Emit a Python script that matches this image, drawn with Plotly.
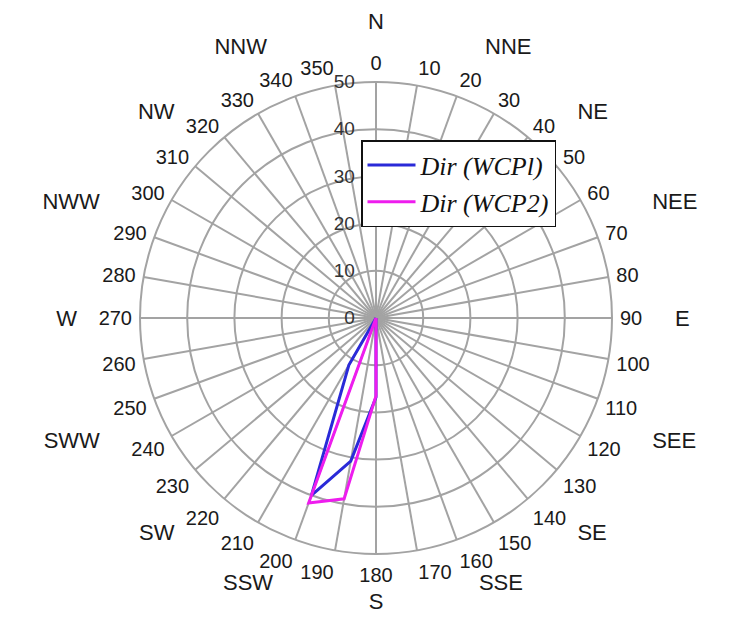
import plotly.graph_objects as go

# Directions (degrees, clockwise from north)
directions = list(range(0, 360, 10))
deg_labels = [str(d) for d in directions]

# Series values per direction (0..350 step 10)
wcp1 = [0]*36
wcp2 = [0]*36
wcp1_vals = {180: 16.8, 190: 30.8, 200: 40.0, 210: 11.5}
wcp2_vals = {180: 16.5, 190: 38.9, 200: 41.7, 210: 0.0}
for k, v in wcp1_vals.items():
    wcp1[directions.index(k)] = v
for k, v in wcp2_vals.items():
    wcp2[directions.index(k)] = v

# Compass words, split in groups by how far out they sit
compass_top_angles = [0, 22.5, 45, 135, 225, 315, 337.5]
compass_top_labels = ["N", "NNE", "NE", "SE", "SW", "NW", "NNW"]
compass_bottom_angles = [157.5, 180, 202.5]
compass_bottom_labels = ["SSE", "S", "SSW"]
compass_side_angles = [67.5, 90, 112.5, 247.5, 270, 292.5]
compass_side_labels = ["NEE", "E", "SEE", "SWW", "W", "NWW"]

radial_ticks = [0, 10, 20, 30, 40, 50]

W, H = 738, 617
cx, cy = 376, 318
R = 236
dom_x = [(cx - R) / W, (cx + R) / W]
dom_y = [(H - cy - R) / H, (H - cy + R) / H]

grid = "#a3a3a3"
txt = "#1a1a1a"

fig = go.Figure()
fig.add_trace(go.Scatterpolar(
    r=wcp1 + [wcp1[0]], theta=directions + [directions[0]], mode="lines",
    line=dict(color="#2a2ad8", width=3), name="<i>Dir (WCPl)</i>"))
fig.add_trace(go.Scatterpolar(
    r=wcp2 + [wcp2[0]], theta=directions + [directions[0]], mode="lines",
    line=dict(color="#ee1cee", width=3), name="<i>Dir (WCP2)</i>"))
for sp in ["polar2", "polar3", "polar4"]:
    fig.add_trace(go.Scatterpolar(r=[], theta=[], subplot=sp, showlegend=False))


def label_polar(angles, labels, ticklen):
    return dict(
        domain=dict(x=dom_x, y=dom_y),
        bgcolor="rgba(0,0,0,0)",
        angularaxis=dict(
            rotation=90, direction="clockwise",
            tickmode="array", tickvals=angles, ticktext=labels,
            showgrid=False, showline=False,
            ticks="outside", ticklen=ticklen, tickcolor="rgba(0,0,0,0)",
            tickfont=dict(size=22, color=txt),
        ),
        radialaxis=dict(visible=False, range=[0, 50]),
    )


fig.update_layout(
    width=W, height=H,
    margin=dict(l=0, r=0, t=0, b=0),
    paper_bgcolor="white",
    font=dict(family="Liberation Sans, Arial", color=txt),
    polar=dict(
        domain=dict(x=dom_x, y=dom_y),
        bgcolor="white",
        angularaxis=dict(
            rotation=90, direction="clockwise",
            tickmode="array", tickvals=directions, ticktext=deg_labels,
            showgrid=True, gridcolor=grid, gridwidth=1.5,
            showline=True, linecolor=grid, linewidth=2,
            ticks="outside", ticklen=3, tickcolor="rgba(0,0,0,0)",
            tickfont=dict(size=20, color=txt),
        ),
        radialaxis=dict(
            range=[0, 50], tickmode="array", tickvals=radial_ticks,
            angle=90, tickangle=90, side="counterclockwise", showline=False,
            showgrid=True, gridcolor=grid, gridwidth=1.5,
            ticks="outside", ticklen=14, tickcolor="rgba(0,0,0,0)",
            tickfont=dict(size=19, color="#333333"),
        ),
    ),
    polar2=label_polar(compass_top_angles, compass_top_labels, 44),
    polar3=label_polar(compass_bottom_angles, compass_bottom_labels, 28),
    polar4=label_polar(compass_side_angles, compass_side_labels, 58),
    legend=dict(
        x=361 / W, y=1 - 140 / H, xanchor="left", yanchor="top",
        bgcolor="white", bordercolor="#111111", borderwidth=1.5,
        font=dict(family="Liberation Serif, Times New Roman", size=26, color="#111111"),
        itemwidth=48,
    ),
)

fig.write_html("out.html")
